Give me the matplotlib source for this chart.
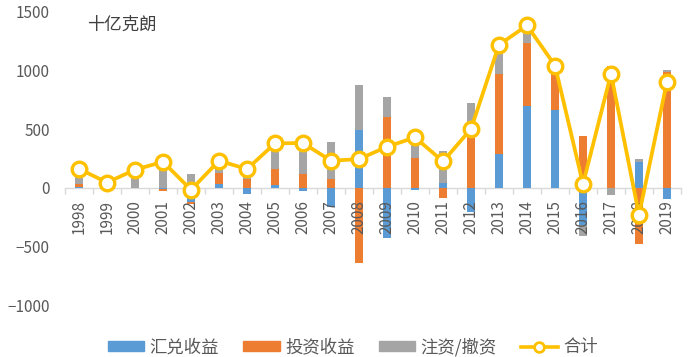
import matplotlib
matplotlib.use('Agg')
import matplotlib.pyplot as plt
import numpy as np
from matplotlib.lines import Line2D
from matplotlib.patches import Patch

plt.rcParams['font.family'] = ['Noto Sans CJK SC', 'DejaVu Sans']

years = [str(y) for y in range(1998, 2020)]
fx_gain = [10, 0, 0, -10, -119, 30, -55, 25, -30, -160, 495, -425, -20, 40, -210, 285, 695, 660, -320, 0, 217, -97]
inv_gain = [20, 0, 0, -15, -20, 100, 75, 135, 122, 75, -638, 607, 254, -91, 459, 690, 540, 370, 445, 1037, -480, 992]
capital = [130, 45, 154, 250, 122, 100, 140, 220, 290, 315, 385, 165, 196, 270, 262, 245, 150, 10, -90, -63, 28, 10]
total = [162, 45, 154, 222, -17, 231, 160, 379, 382, 231, 245, 350, 430, 225, 502, 1220, 1385, 1043, 32, 972, -231, 906]

labels = ['汇兑收益', '投资收益', '注资/撤资', '合计']
colors = ['#5B9BD5', '#ED7D31', '#A5A5A5']
line_color = '#FFC000'
text_color = '#595959'

fig = plt.figure(figsize=(7, 3.57), dpi=100)
ax = fig.add_axes([65/700, 1-305/357, (681-65)/700, (305-12)/357])

x = np.arange(len(years))
pos_b = np.zeros(len(years))
neg_b = np.zeros(len(years))
for vals, c, lab in zip([fx_gain, inv_gain, capital], colors, labels[:3]):
    v = np.array(vals, dtype=float)
    bottom = np.where(v >= 0, pos_b, neg_b)
    ax.bar(x, v, 0.28, bottom=bottom, color=c, zorder=1, linewidth=0)
    pos_b += np.where(v > 0, v, 0)
    neg_b += np.where(v < 0, v, 0)

ax.plot(x, total, color=line_color, lw=2.7, marker='o', ms=10.5,
        mfc='white', mec=line_color, mew=2.4, zorder=4)

ax.set_xlim(-0.5, len(years) - 0.5)
ax.set_ylim(-1000, 1500)
ax.set_yticks(range(-1000, 1501, 500))
for s in ['left', 'right', 'top']:
    ax.spines[s].set_visible(False)
ax.spines['bottom'].set_position(('data', 0))
ax.spines['bottom'].set_color('#D9D9D9')
ax.spines['bottom'].set_linewidth(1)
ax.spines['bottom'].set_zorder(0.5)

ax.set_xticks(x)
ax.set_xticklabels(years, rotation=90, va='top', ha='center')
ax.set_xticks(np.arange(-0.5, len(years), 1), minor=True)
ax.tick_params(axis='x', which='major', length=0, pad=9, labelsize=11, labelcolor=text_color)
ax.tick_params(axis='x', which='minor', length=4, width=1, color='#D9D9D9', direction='out')
ax.tick_params(axis='y', length=0, pad=11, labelsize=11, labelcolor=text_color)

fig.text(87/700, 1-25/357, '十亿克朗', fontsize=12.5, color='#404040', va='center', ha='left')

handles = [Patch(color=c) for c in colors]
handles.append(Line2D([], [], color=line_color, lw=2.6, marker='o', ms=7,
                      mfc='white', mec=line_color, mew=2))
fig.legend(handles, labels, loc='center', bbox_to_anchor=(0.504, 0.028), ncol=4,
           frameon=False, fontsize=12.5, handlelength=2.1, handleheight=0.5,
           handletextpad=0.3, columnspacing=1.4, labelcolor=text_color)

fig.savefig('out.png', dpi=100)
